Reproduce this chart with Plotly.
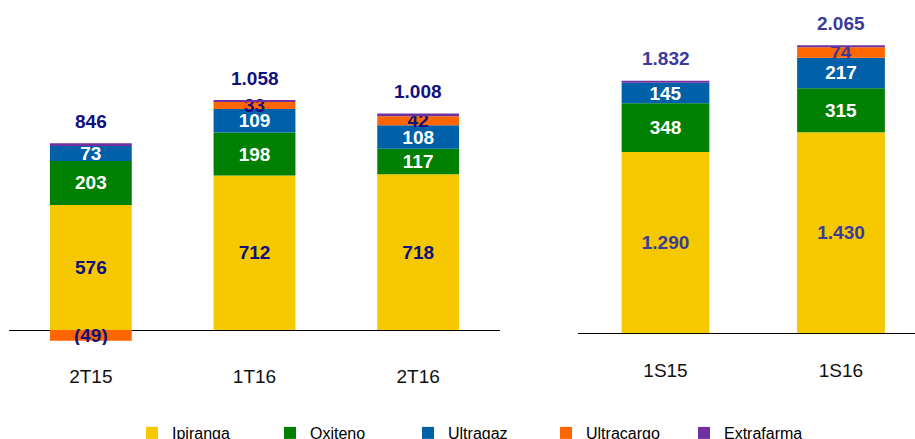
import plotly.graph_objects as go

# ---- data ----
left_cats = ["2T15", "1T16", "2T16"]
right_cats = ["1S15", "1S16"]

ipiranga_l = [576, 712, 718]
oxiteno_l = [203, 198, 117]
ultragaz_l = [73, 109, 108]
ultracargo_l = [-49, 33, 42]
extrafarma_l = [9, 7, 13]
totals_l = [846, 1058, 1008]

ipiranga_r = [1290, 1430]
oxiteno_r = [348, 315]
ultragaz_r = [145, 217]
ultracargo_r = [0, 74]
extrafarma_r = [15, 15]
totals_r = [1832, 2065]

series_names = ["Ipiranga", "Oxiteno", "Ultragaz", "Ultracargo", "Extrafarma"]
colors = ["#F5C800", "#008000", "#0060A8", "#FF6600", "#7030A0"]

NAVY = "#10107E"
SLATE = "#3B3B9C"
FONT = "Liberation Sans, Arial, sans-serif"


def fmt(v):
    if v == 0:
        return ""
    s = f"{abs(v):,}".replace(",", ".")
    return f"({s})" if v < 0 else s


left_data = [ipiranga_l, oxiteno_l, ultragaz_l, ultracargo_l, extrafarma_l]
right_data = [ipiranga_r, oxiteno_r, ultragaz_r, ultracargo_r, extrafarma_r]
left_txtcol = [NAVY, "white", "white", NAVY, NAVY]
right_txtcol = [SLATE, "white", "white", SLATE, SLATE]

fig = go.Figure()
for i, name in enumerate(series_names):
    show_text = name != "Extrafarma"
    fig.add_trace(go.Bar(
        x=left_cats, y=left_data[i], name=name, legendgroup=name,
        marker=dict(color=colors[i], line=dict(width=0)),
        text=[fmt(v) if show_text else "" for v in left_data[i]],
        textposition="inside", insidetextanchor="middle", constraintext="none",
        textfont=dict(family=FONT, size=19, color=left_txtcol[i], weight="bold"),
        width=0.5, xaxis="x", yaxis="y", hoverinfo="skip",
    ))
    fig.add_trace(go.Bar(
        x=right_cats, y=right_data[i], name=name, legendgroup=name, showlegend=False,
        marker=dict(color=colors[i], line=dict(width=0)),
        text=[fmt(v) if show_text else "" for v in right_data[i]],
        textposition="inside", insidetextanchor="middle", constraintext="none",
        textfont=dict(family=FONT, size=19, color=right_txtcol[i], weight="bold"),
        width=0.5, xaxis="x2", yaxis="y2", hoverinfo="skip",
    ))

annotations = []
for j, c in enumerate(left_cats):
    top = sum(max(d[j], 0) for d in left_data)
    annotations.append(dict(x=c, y=top, xref="x", yref="y", yshift=22,
                            text=fmt(totals_l[j]), showarrow=False, yanchor="middle",
                            font=dict(family=FONT, size=19, color=NAVY, weight="bold")))
for j, c in enumerate(right_cats):
    top = sum(max(d[j], 0) for d in right_data)
    annotations.append(dict(x=c, y=top, xref="x2", yref="y2", yshift=22,
                            text=fmt(totals_r[j]), showarrow=False, yanchor="middle",
                            font=dict(family=FONT, size=19, color=SLATE, weight="bold")))

W, H = 915, 439
plot_bottom = 345
ydom = [(H - plot_bottom) / H, 1]

fig.update_layout(
    width=W, height=H,
    margin=dict(l=0, r=0, t=0, b=0, autoexpand=False),
    paper_bgcolor="white", plot_bgcolor="white",
    barmode="relative", bargap=0.5,
    font=dict(family=FONT, color="#000000"),
    annotations=annotations,
    showlegend=True,
    legend=dict(orientation="h", x=132 / W, xanchor="left", y=(H - 433) / H, yanchor="middle",
                font=dict(family=FONT, size=16, color="#000000"), traceorder="normal",
                entrywidth=93, entrywidthmode="pixels", bgcolor="rgba(0,0,0,0)"),
    xaxis=dict(domain=[9 / W, 500 / W], range=[-0.5, 2.5], anchor="y",
               showgrid=False, showline=False, zeroline=False,
               ticks="outside", ticklen=14, tickcolor="rgba(0,0,0,0)",
               tickfont=dict(family=FONT, size=19, color="#111111"), fixedrange=True),
    yaxis=dict(domain=ydom, range=[-(plot_bottom - 330) / 0.217, 330 / 0.217], anchor="x",
               showgrid=False, showline=False, showticklabels=False, ticks="",
               zeroline=True, zerolinecolor="#000000", zerolinewidth=1, fixedrange=True),
    xaxis2=dict(domain=[578 / W, 1], range=[-0.4986, 1.4217], anchor="y2",
                showgrid=False, showline=False, zeroline=False,
                ticks="outside", ticklen=8, tickcolor="rgba(0,0,0,0)",
                tickfont=dict(family=FONT, size=19, color="#111111"), fixedrange=True),
    yaxis2=dict(domain=ydom, range=[-(plot_bottom - 333) / 0.1403, 333 / 0.1403], anchor="x2",
                showgrid=False, showline=False, showticklabels=False, ticks="",
                zeroline=True, zerolinecolor="#000000", zerolinewidth=1, fixedrange=True),
)

fig.write_html("out.html")
